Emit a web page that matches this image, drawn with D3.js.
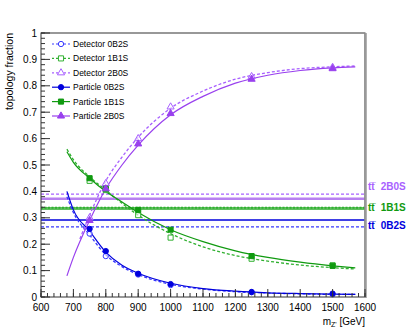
<!DOCTYPE html>
<html>
<head>
<meta charset="utf-8">
<script src="https://cdn.jsdelivr.net/npm/d3@7"></script>
<style>
  body { margin: 0; background: #fff; }
  text { font-family: "Liberation Sans", Arial, sans-serif; }
</style>
</head>
<body>
<div id="chart"></div>
<script>
const WIDTH = 407;
const HEIGHT = 331;
const M = {left: 41, right: 42, top: 33, bottom: 34};

// measured points
const masses = [750, 800, 900, 1000, 1250, 1500];
const det0B2S = [0.24, 0.155, 0.085, 0.045, 0.018, 0.01];
const det1B1S = [0.44, 0.405, 0.31, 0.225, 0.145, 0.12];
const det2B0S = [0.30, 0.43, 0.60, 0.72, 0.835, 0.87];
const part0B2S = [0.258, 0.174, 0.088, 0.049, 0.019, 0.013];
const part1B1S = [0.45, 0.41, 0.33, 0.255, 0.155, 0.118];
const part2B0S = [0.29, 0.41, 0.58, 0.695, 0.825, 0.865];

// fitted curves
const fitX = [680, 700, 750, 800, 850, 900, 1000, 1100, 1200, 1300, 1400, 1500, 1570];
const fitDet0B2S = [0.38, 0.32, 0.235, 0.16, 0.115, 0.085, 0.048, 0.03, 0.02, 0.015, 0.012, 0.01, 0.01];
const fitPart0B2S = [0.40, 0.33, 0.25, 0.17, 0.12, 0.09, 0.052, 0.032, 0.022, 0.016, 0.013, 0.011, 0.01];
const fitDet1B1S = [0.56, 0.52, 0.455, 0.405, 0.355, 0.31, 0.24, 0.19, 0.157, 0.136, 0.121, 0.111, 0.106];
const fitPart1B1S = [0.55, 0.51, 0.45, 0.40, 0.36, 0.32, 0.255, 0.21, 0.175, 0.15, 0.132, 0.118, 0.11];
const fitDetX2B0S = [720, 750, 800, 850, 900, 1000, 1100, 1200, 1300, 1400, 1500, 1570];
const fitDet2B0S = [0.22, 0.31, 0.44, 0.53, 0.605, 0.715, 0.78, 0.825, 0.85, 0.865, 0.872, 0.875];
const fitPart2B0S = [0.08, 0.15, 0.29, 0.41, 0.50, 0.575, 0.69, 0.76, 0.81, 0.84, 0.858, 0.868, 0.872];

// ttbar reference levels
const ttDet = {b0: 0.266, b1: 0.338, b2: 0.39};
const ttPart = {b0: 0.292, b1: 0.335, b2: 0.372};

const xTicks = [600, 700, 800, 900, 1000, 1100, 1200, 1300, 1400, 1500, 1600];
const yTicks = [0, 0.1, 0.2, 0.3, 0.4, 0.5, 0.6, 0.7, 0.8, 0.9, 1];

const BLUE = "#0000dd", GREEN = "#109a10", PURPLE = "#9940ee";
const BLUE_D = "#3a3aff", GREEN_D = "#30b030", PURPLE_D = "#a860ff";

const svg = d3.select("#chart").append("svg")
    .attr("width", WIDTH).attr("height", HEIGHT);

const x = d3.scaleLinear().domain([600, 1600]).range([M.left, WIDTH - M.right]);
const y = d3.scaleLinear().domain([0, 1]).range([HEIGHT - M.bottom, M.top]);

// horizontal ttbar lines
function hline(v, color, width, dash) {
    svg.append("line")
        .attr("x1", x(600)).attr("x2", x(1600))
        .attr("y1", y(v)).attr("y2", y(v))
        .attr("stroke", color).attr("stroke-width", width)
        .attr("stroke-dasharray", dash);
}
hline(ttPart.b2, "#b880f0", 2.5, null);
hline(ttDet.b2, PURPLE_D, 1.2, "3,2");
hline(ttPart.b1, "#60c060", 3, null);
hline(ttDet.b1, GREEN_D, 2, "2,1.5");
hline(ttPart.b0, BLUE, 1.5, null);
hline(ttDet.b0, BLUE_D, 1.3, "3,2");

// right-hand labels
const ttLabels = [
    {v: ttDet.b2 + 0.03, t: "2B0S", c: PURPLE_D},
    {v: ttPart.b1 + 0.005, t: "1B1S", c: GREEN},
    {v: ttPart.b0 - 0.02, t: "0B2S", c: BLUE}
];
ttLabels.forEach(d => {
    const t = svg.append("text")
        .attr("x", x(1600) + 3).attr("y", y(d.v) + 4)
        .attr("font-size", 10).attr("font-weight", "bold")
        .attr("fill", d.c);
    t.append("tspan").text("tt\u0305");
    t.append("tspan").attr("dx", 6).text(d.t);
});

// fit curves
const line = d3.line().x(d => x(d[0])).y(d => y(d[1])).curve(d3.curveMonotoneX);
function curve(xs, ys, color, width, dash) {
    svg.append("path")
        .attr("d", line(d3.zip(xs, ys)))
        .attr("fill", "none").attr("stroke", color)
        .attr("stroke-width", width).attr("stroke-dasharray", dash);
}
curve(fitX, fitDet0B2S, BLUE_D, 1.3, "3,2");
curve(fitX, fitDet1B1S, GREEN_D, 1.3, "3,2");
curve(fitDetX2B0S, fitDet2B0S, PURPLE_D, 1.3, "3,2");
curve(fitX, fitPart0B2S, BLUE, 1.2, null);
curve(fitX, fitPart1B1S, GREEN, 1.2, null);
curve(fitX, fitPart2B0S, PURPLE, 1.2, null);

// markers
const sym = {
    circle: d3.symbol().type(d3.symbolCircle).size(22),
    square: d3.symbol().type(d3.symbolSquare).size(26),
    triangle: d3.symbol().type(d3.symbolTriangle).size(22)
};
function markers(vals, shape, color, filled) {
    svg.append("g").selectAll("path")
        .data(d3.zip(masses, vals))
        .join("path")
        .attr("transform", d => `translate(${x(d[0])},${y(d[1])})`)
        .attr("d", sym[shape])
        .attr("fill", filled ? color : "#fff")
        .attr("fill-opacity", filled ? 1 : 0.6)
        .attr("stroke", color).attr("stroke-width", 1);
}
markers(det0B2S, "circle", BLUE_D, false);
markers(det1B1S, "square", GREEN_D, false);
markers(det2B0S, "triangle", PURPLE_D, false);
markers(part0B2S, "circle", BLUE, true);
markers(part1B1S, "square", GREEN, true);
markers(part2B0S, "triangle", PURPLE, true);

// frame
svg.append("rect")
    .attr("x", x(600)).attr("y", y(1))
    .attr("width", x(1600) - x(600)).attr("height", y(0) - y(1))
    .attr("fill", "none").attr("stroke", "#333").attr("stroke-width", 1);
svg.append("line")
    .attr("x1", x(1600) + 0.5).attr("x2", x(1600) + 0.5)
    .attr("y1", y(1)).attr("y2", y(0) + 1)
    .attr("stroke", "#999").attr("stroke-width", 2.5);

// axes, ROOT style ticks inside
const xMinor = d3.range(600, 1601, 20);
const yMinor = d3.range(0, 1.001, 0.02);
const gx = svg.append("g").attr("transform", `translate(0,${y(0)})`);
gx.selectAll("line.minor").data(xMinor).join("line")
    .attr("x1", d => x(d)).attr("x2", d => x(d))
    .attr("y1", 0).attr("y2", -4).attr("stroke", "#333");
gx.selectAll("line.major").data(xTicks).join("line")
    .attr("x1", d => x(d)).attr("x2", d => x(d))
    .attr("y1", 0).attr("y2", -8).attr("stroke", "#333");
gx.selectAll("text").data(xTicks).join("text")
    .attr("x", d => x(d)).attr("y", 14)
    .attr("text-anchor", "middle").attr("font-size", 10)
    .text(d => d);

const gy = svg.append("g").attr("transform", `translate(${x(600)},0)`);
gy.selectAll("line.minor").data(yMinor).join("line")
    .attr("x1", 0).attr("x2", 4)
    .attr("y1", d => y(d)).attr("y2", d => y(d)).attr("stroke", "#333");
gy.selectAll("line.major").data(yTicks).join("line")
    .attr("x1", 0).attr("x2", 9)
    .attr("y1", d => y(d)).attr("y2", d => y(d)).attr("stroke", "#333");
gy.selectAll("text").data(yTicks).join("text")
    .attr("x", -4).attr("y", d => y(d) + 3.5)
    .attr("text-anchor", "end").attr("font-size", 10)
    .text(d => d3.format("")(+d.toFixed(1)));

// axis titles
const xt = svg.append("text")
    .attr("x", x(1600)).attr("y", HEIGHT - 6)
    .attr("text-anchor", "end").attr("font-size", 10);
xt.append("tspan").text("m");
xt.append("tspan").attr("font-size", 7).attr("dy", 2).text("Z'");
xt.append("tspan").attr("dy", -2).text(" [GeV]");

svg.append("text")
    .attr("transform", `translate(13,${y(1)}) rotate(-90)`)
    .attr("text-anchor", "end").attr("font-size", 10.5)
    .text("topology fraction");

// legend
const legend = [
    {label: "Detector 0B2S", shape: "circle", c: BLUE_D, filled: false, dash: "2,2"},
    {label: "Detector 1B1S", shape: "square", c: GREEN_D, filled: false, dash: "2,2"},
    {label: "Detector 2B0S", shape: "triangle", c: PURPLE_D, filled: false, dash: "2,2"},
    {label: "Particle 0B2S", shape: "circle", c: BLUE, filled: true, dash: null},
    {label: "Particle 1B1S", shape: "square", c: GREEN, filled: true, dash: null},
    {label: "Particle 2B0S", shape: "triangle", c: PURPLE, filled: true, dash: null}
];
const lg = svg.append("g").selectAll("g").data(legend).join("g")
    .attr("transform", (d, i) => `translate(52,${44 + i * 14.4})`);
lg.append("line").attr("x1", 0).attr("x2", 18)
    .attr("stroke", d => d.c).attr("stroke-width", 1.2)
    .attr("stroke-dasharray", d => d.dash);
lg.append("path")
    .attr("transform", "translate(9,0)")
    .attr("d", d => sym[d.shape]())
    .attr("fill", d => d.filled ? d.c : "#fff")
    .attr("stroke", d => d.c);
lg.append("text").attr("x", 21).attr("y", 3).attr("font-size", 8.5)
    .text(d => d.label);
</script>
</body>
</html>
